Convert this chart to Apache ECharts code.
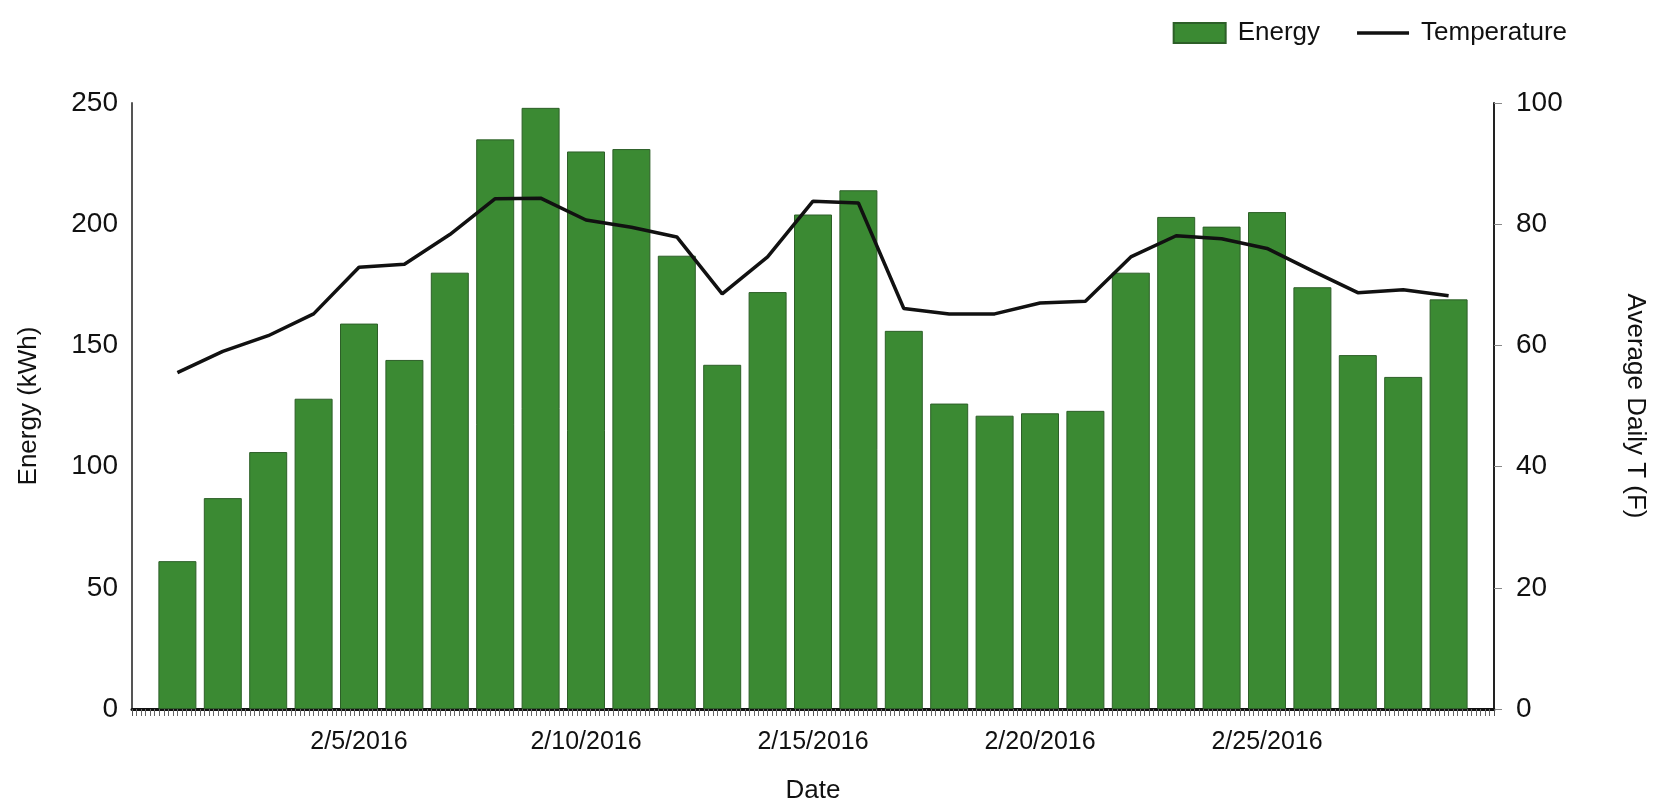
<!DOCTYPE html>
<html>
<head>
<meta charset="utf-8">
<script src="https://cdn.jsdelivr.net/npm/echarts@6/dist/echarts.min.js"></script>
<style>
  html, body { margin: 0; padding: 0; background: #ffffff; }
  #chart { width: 1658px; height: 809px; }
</style>
</head>
<body>
<div id="chart"></div>
<script>
const dates = ['2/1/2016','2/2/2016','2/3/2016','2/4/2016','2/5/2016','2/6/2016','2/7/2016','2/8/2016','2/9/2016','2/10/2016',
  '2/11/2016','2/12/2016','2/13/2016','2/14/2016','2/15/2016','2/16/2016','2/17/2016','2/18/2016','2/19/2016','2/20/2016',
  '2/21/2016','2/22/2016','2/23/2016','2/24/2016','2/25/2016','2/26/2016','2/27/2016','2/28/2016','2/29/2016'];
const energy = [61, 87, 106, 128, 159, 144, 180, 235, 248, 230,
  231, 187, 142, 172, 204, 214, 156, 126, 121, 122,
  123, 180, 203, 199, 205, 174, 146, 137, 169];
const temperature = [55.5, 59.0, 61.6, 65.2, 72.9, 73.4, 78.3, 84.2, 84.3, 80.7,
  79.5, 77.9, 68.5, 74.6, 83.8, 83.5, 66.1, 65.2, 65.2, 67.0,
  67.3, 74.6, 78.1, 77.6, 76.0, 72.3, 68.7, 69.2, 68.2];
const energyTicks = [0, 50, 100, 150, 200, 250];
const tempTicks = [0, 20, 40, 60, 80, 100];

const dayOf = d => parseInt(d.split('/')[1], 10);
const energyData = dates.map((d, i) => [dayOf(d), energy[i]]);
const tempData = dates.map((d, i) => [dayOf(d), temperature[i]]);

const FONT = 'Liberation Sans, Arial, sans-serif';
const LINE_ICON = 'path://M0,0 L52,0 L52,0.01 L0,0.01 Z M0,8.3 L52,8.3 L52,11.7 L0,11.7 Z M0,19.99 L52,19.99 L52,20 L0,20 Z';
const chart = echarts.init(document.getElementById('chart'), null, { renderer: 'canvas' });
chart.setOption({
  animation: false,
  backgroundColor: '#ffffff',
  textStyle: { fontFamily: FONT, color: '#111' },
  legend: {
    top: 15,
    right: 86,
    itemWidth: 52,
    itemHeight: 20,
    itemGap: 37,
    textStyle: { fontFamily: FONT, fontSize: 26, color: '#111', padding: [0, 0, 0, 7] },
    data: [
      { name: 'Energy', icon: 'rect' },
      { name: 'Temperature', icon: LINE_ICON, itemStyle: { color: '#111' } }
    ]
  },
  grid: { left: 132, right: 164, top: 103, bottom: 98, containLabel: false },
  xAxis: {
    type: 'value',
    min: 0,
    max: 30,
    interval: 5,
    name: 'Date',
    nameLocation: 'middle',
    nameGap: 69,
    nameTextStyle: { fontFamily: FONT, fontSize: 26, color: '#111' },
    axisLine: { show: true, lineStyle: { color: '#111', width: 3 } },
    axisTick: { show: true, length: 7, lineStyle: { color: '#555', width: 1 } },
    minorTick: { show: true, splitNumber: 50, length: 7, lineStyle: { color: '#666', width: 1 } },
    splitLine: { show: false },
    minorSplitLine: { show: false },
    axisLabel: {
      fontFamily: FONT, fontSize: 25, color: '#111', margin: 21,
      formatter: v => (v > 0 && v < 30) ? dates[v - 1] : ''
    }
  },
  yAxis: [
    {
      type: 'value',
      min: energyTicks[0],
      max: energyTicks[energyTicks.length - 1],
      interval: energyTicks[1] - energyTicks[0],
      name: 'Energy (kWh)',
      nameLocation: 'middle',
      nameGap: 90,
      nameTextStyle: { fontFamily: FONT, fontSize: 26, color: '#111' },
      axisLine: { show: true, lineStyle: { color: '#555', width: 2 } },
      axisTick: { show: false },
      splitLine: { show: false },
      axisLabel: { fontFamily: FONT, fontSize: 28, color: '#111', margin: 14 }
    },
    {
      type: 'value',
      position: 'right',
      min: tempTicks[0],
      max: tempTicks[tempTicks.length - 1],
      interval: tempTicks[1] - tempTicks[0],
      name: 'Average Daily T (F)',
      nameLocation: 'middle',
      nameRotate: -90,
      nameGap: 128,
      nameTextStyle: { fontFamily: FONT, fontSize: 26, color: '#111' },
      axisLine: { show: true, lineStyle: { color: '#222', width: 2 } },
      axisTick: { show: true, length: 8, lineStyle: { color: '#888', width: 1 } },
      splitLine: { show: false },
      axisLabel: { fontFamily: FONT, fontSize: 28, color: '#111', margin: 22 }
    }
  ],
  series: [
    {
      name: 'Energy',
      type: 'bar',
      yAxisIndex: 0,
      barWidth: 38,
      data: energyData,
      itemStyle: { color: '#3b8a33', borderColor: '#2d5f28', borderWidth: 1 }
    },
    {
      name: 'Temperature',
      type: 'line',
      yAxisIndex: 1,
      data: tempData,
      symbol: 'none',
      showSymbol: false,
      lineStyle: { color: '#111', width: 3.5 },
      itemStyle: { color: '#111' },
      z: 5
    }
  ]
});
</script>
</body>
</html>
